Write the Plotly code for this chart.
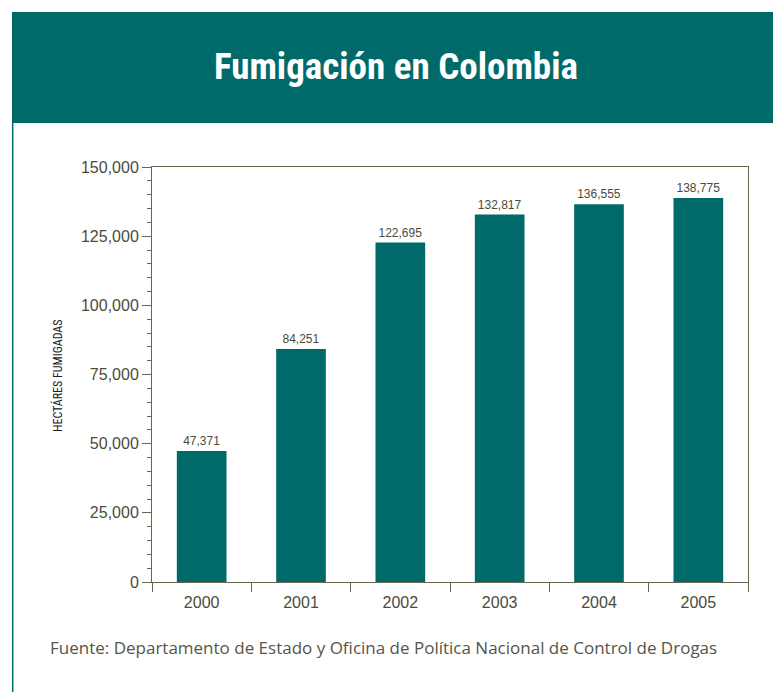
import plotly.graph_objects as go

years = ["2000", "2001", "2002", "2003", "2004", "2005"]
hectares = [47371, 84251, 122695, 132817, 136555, 138775]
y_ticks = [0, 25000, 50000, 75000, 100000, 125000, 150000]
y_tick_labels = ["0", "25,000", "50,000", "75,000", "100,000", "125,000", "150,000"]

TEAL = "#006a6b"
TEXT = "#4b4b3b"
AXIS = "#66664f"

# page body has an 8px margin, so coordinates are laid out shifted by -8
OFF = 8
W, H = 781, 692
L, R, T, B = 152 - OFF, 33 + OFF, 167 - OFF, 110 + OFF
PW, PH = W - L - R, H - T - B


def px(x):
    return (x - OFF - L) / PW


def py(y):
    return (H - B - (y - OFF)) / PH


fig = go.Figure()
fig.add_trace(go.Bar(
    x=years, y=hectares, width=0.5,
    marker=dict(color=TEAL, line=dict(width=0)),
    text=[f"{v:,}" for v in hectares], textposition="outside",
    textfont=dict(family="Liberation Sans, Arial", size=12, color=TEXT),
    cliponaxis=False,
))

shapes = [
    dict(type="rect", xref="paper", yref="paper", x0=px(12), x1=px(790), y0=py(12), y1=py(123),
         fillcolor=TEAL, line=dict(width=0), layer="below"),
    dict(type="line", xref="paper", yref="paper", x0=px(12.7), x1=px(12.7), y0=py(123), y1=py(700),
         line=dict(color=TEAL, width=1.5)),
    dict(type="line", xref="paper", yref="paper", x0=px(778), x1=px(778), y0=py(123), y1=py(700),
         line=dict(color=TEAL, width=1.5)),
]

annotations = [
    dict(text="<b>Fumigación en Colombia</b>", xref="paper", yref="paper", x=px(396), y=py(67),
         xanchor="center", yanchor="middle", showarrow=False,
         font=dict(family="Liberation Sans Narrow, Roboto Condensed, Arial Narrow, sans-serif", size=37, color="white")),
    dict(text="HECTÁRES FUMIGADAS", xref="paper", yref="paper", x=px(57), y=py(376),
         xanchor="center", yanchor="middle", textangle=-90, showarrow=False,
         font=dict(family="Liberation Sans Narrow, Roboto Condensed, Arial Narrow, sans-serif", size=12, color="#222222")),
    dict(text="Fuente: Departamento de Estado y Oficina de Política Nacional de Control de Drogas",
         xref="paper", yref="paper", x=px(48), y=py(647), xanchor="left", yanchor="middle", showarrow=False,
         font=dict(family="Open Sans, Liberation Sans, Arial, sans-serif", size=17, color="#55554a")),
]

fig.update_layout(
    width=W, height=H, margin=dict(l=L, r=R, t=T, b=B, autoexpand=False),
    paper_bgcolor="white", plot_bgcolor="white", showlegend=False,
    shapes=shapes, annotations=annotations,
    font=dict(family="Liberation Sans, Arial, sans-serif", color=TEXT),
    bargap=0.5,
)
fig.update_xaxes(
    type="category", showline=True, linecolor=AXIS, linewidth=1, mirror=True,
    ticks="outside", tickson="boundaries", ticklen=9, tickcolor=AXIS, tickwidth=1,
    tickfont=dict(size=16, color=TEXT), showgrid=False, zeroline=False,
    ticklabelstandoff=6,
)
fig.update_yaxes(
    range=[0, 150000], tickvals=y_ticks, ticktext=y_tick_labels,
    showline=True, linecolor=AXIS, linewidth=1, mirror=True,
    ticks="outside", ticklen=9, tickcolor=AXIS, tickwidth=1,
    tickfont=dict(size=16, color=TEXT), showgrid=False, zeroline=False,
    minor=dict(dtick=5000, ticks="outside", ticklen=4, tickcolor=AXIS, tickwidth=1, showgrid=False),
)

fig.write_html("out.html")
